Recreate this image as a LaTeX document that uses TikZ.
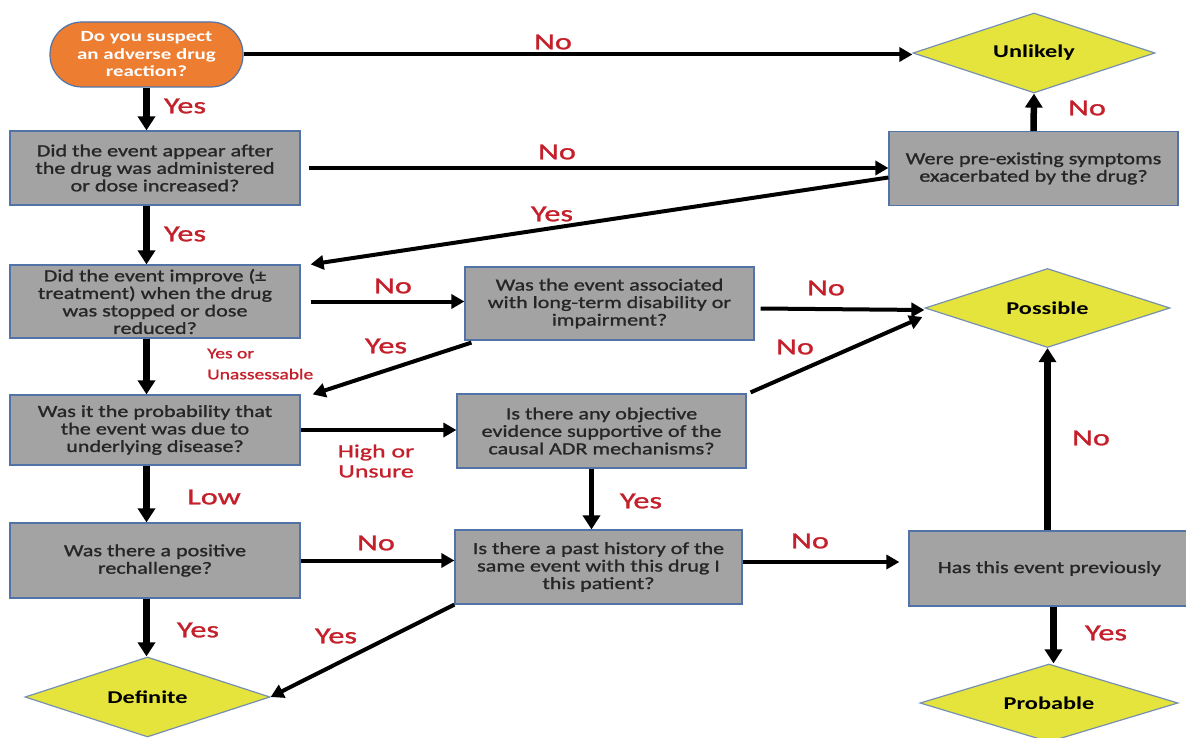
\documentclass[tikz,border=0pt]{standalone}
\usepackage{fontspec}
\usetikzlibrary{shapes.geometric,arrows.meta,calc}
\newfontfamily\boxfont[FakeStretch=1.3,FakeBold=1.2]{Carlito}
\newfontfamily\lblfont[FakeStretch=1.4,FakeBold=1.2]{Carlito}
\newfontfamily\dfont[FakeStretch=1.35]{Carlito}
\definecolor{boxgray}{HTML}{A3A3A3}
\definecolor{boxedge}{HTML}{5273A8}
\definecolor{txtdark}{HTML}{262626}
\definecolor{dyellow}{HTML}{E4E43C}
\definecolor{dedge}{HTML}{7890B0}
\definecolor{startor}{HTML}{ED7D31}
\definecolor{lblred}{HTML}{C4202B}
\tikzset{
  qbox/.style={draw=boxedge, line width=1.2pt, fill=boxgray, text=txtdark, align=center,
    inner sep=0pt, font=\boxfont\fontsize{17}{17.5}\selectfont},
  dnode/.style={shape=diamond, draw=dedge, line width=1.2pt, fill=dyellow, text=black,
    inner sep=0pt, aspect=3, font=\dfont\bfseries\fontsize{18}{18}\selectfont},
  startnode/.style={rounded corners=32pt, draw=boxedge, line width=1.2pt, fill=startor,
    text=white, align=center, inner sep=0pt, font=\dfont\bfseries\fontsize{15.5}{17.5}\selectfont},
  lbl/.style={text=lblred, font=\lblfont\fontsize{23}{23}\selectfont, inner sep=0pt},
  lblsm/.style={text=lblred, font=\lblfont\fontsize{18.5}{20}\selectfont, inner sep=0pt, align=center},
  conn/.style={line width=4pt, -{Triangle[length=13pt,width=14pt]}},
  thick conn/.style={line width=6.5pt, -{Triangle[length=14pt,width=17pt]}}
}
\begin{document}
\begin{tikzpicture}[x=1pt,y=-1pt]
\useasboundingbox (0,0) rectangle (1186,738);
% nodes
\node[startnode, minimum width=193pt, minimum height=65pt] (start) at (146.5,54.5) {Do you suspect\\an adverse drug\\reaction?};
\node[dnode, minimum width=242pt, minimum height=80pt] (unl) at (1034,53) {Unlikely};
\node[qbox, minimum width=290pt, minimum height=74pt] (b1) at (155,168) {Did the event appear after\\the drug was administered\\or dose increased?};
\node[qbox, minimum width=289pt, minimum height=74pt] (pre) at (1033.5,168.5) {Were pre-existing symptoms\\exacerbated by the drug?};
\node[qbox, minimum width=290pt, minimum height=73pt] (b2) at (155,301.5) {Did the event improve (±\\treatment) when the drug\\was stopped or dose\\reduced?};
\node[qbox, minimum width=289pt, minimum height=73pt] (assoc) at (609.5,303.5) {Was the event associated\\with long-term disability or\\impairment?};
\node[dnode, minimum width=245pt, minimum height=79pt] (poss) at (1047.5,308) {Possible};
\node[qbox, minimum width=290pt, minimum height=70pt] (b3) at (155,430) {Was it the probability that\\the event was due to\\underlying disease?};
\node[qbox, minimum width=289pt, minimum height=74pt] (obj) at (601.5,431) {Is there any objective\\evidence supportive of the\\causal ADR mechanisms?};
\node[qbox, minimum width=290pt, minimum height=75pt] (b4) at (155,560.5) {Was there a positive\\rechallenge?};
\node[qbox, minimum width=287pt, minimum height=74pt] (past) at (598.5,567) {Is there a past history of the\\same event with this drug I\\this patient?};
\node[qbox, minimum width=281pt, minimum height=75pt] (has) at (1049.5,568.5) {Has this event previously};
\node[dnode, minimum width=245pt, minimum height=80pt] (def) at (147.5,697) {Definite};
\node[dnode, minimum width=258pt, minimum height=78pt] (prob) at (1049,703) {Probable};
% connectors
\draw[conn] (start.east) -- (start.east -| unl.west);
\draw[thick conn] (start.south) -- (b1.north -| start.south);
\draw[conn, shorten <=8pt] (b1.east) -- (b1.east -| pre.west);
\draw[thick conn] (pre.north) -- (unl.south);
\draw[conn] ([yshift=-9pt]pre.west) -- ([xshift=10pt]b2.north east);
\draw[thick conn] (b1.south -| start.south) -- (b2.north -| start.south);
\draw[conn, shorten <=10pt] (b2.east) -- (b2.east -| assoc.west);
\draw[conn] ([xshift=6pt,yshift=-5pt]assoc.east) -- ([yshift=-2pt]poss.west);
\draw[conn] ([xshift=7pt,yshift=-2pt]assoc.south west) -- ([xshift=12pt]b3.north east);
\draw[thick conn] (b2.south -| start.south) -- (b3.north -| start.south);
\draw[conn] (b3.east) -- (b3.east -| obj.west);
\draw[conn] ([xshift=4pt,yshift=1pt]obj.north east) -- ([xshift=-2pt,yshift=-9pt]poss.west);
\draw[thick conn, line width=5pt] ([xshift=-10pt]obj.south) -- ([xshift=-10pt]obj.south |- past.north);
\draw[thick conn] (b3.south -| start.south) -- (b4.north -| start.south);
\draw[conn] (b4.east) -- (b4.east -| past.west);
\draw[conn, shorten >=9pt] ([yshift=5pt]past.east) -- ([yshift=5pt]past.east -| has.west);
\draw[thick conn] (has.north -| poss.south) -- (poss.south);
\draw[thick conn] ([xshift=4pt]has.south) -- ([xshift=4pt]has.south |- prob.north);
\draw[thick conn] (b4.south -| start.south) -- (def.north -| start.south);
\draw[conn] (past.south west) -- (def.east);
% labels
\node[lbl] (l1) at (553,42) {No};
\node[lbl] (l2) at (185,106) {Yes};
\node[lbl] (l3) at (557,152) {No};
\node[lbl] (l4) at (1087,108) {No};
\node[lbl] (l5) at (552,214) {Yes};
\node[lbl] (l6) at (185,234) {Yes};
\node[lbl] (l7) at (393,286) {No};
\node[lbl] (l8) at (826,288) {No};
\node[lbl] (l9) at (386,346) {Yes};
\node[lblsm, align=left, anchor=west, font=\boxfont\fontsize{15}{21}\selectfont] (l10) at (207,364) {Yes or\\Unassessable};
\node[lblsm] (l11) at (376,461) {High or\\Unsure};
\node[lbl] (l12) at (795,347) {No};
\node[lbl] (l13) at (641,501) {Yes};
\node[lbl] (l14) at (214,497) {Low};
\node[lbl] (l15) at (376,543) {No};
\node[lbl] (l16) at (810,541) {No};
\node[lbl] (l17) at (1091,438) {No};
\node[lbl] (l18) at (1106,633) {Yes};
\node[lbl] (l19) at (198,630) {Yes};
\node[lbl] (l20) at (336,636) {Yes};
\end{tikzpicture}
\end{document}
